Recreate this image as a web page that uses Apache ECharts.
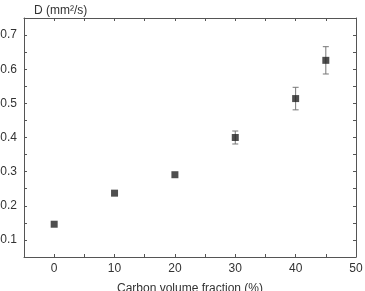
<!DOCTYPE html>
<html>
<head>
<meta charset="utf-8">
<script src="https://cdn.jsdelivr.net/npm/echarts@6/dist/echarts.min.js"></script>
<style>
  html, body { margin: 0; padding: 0; background: #fff; }
  #chart { width: 365px; height: 291px; }
</style>
</head>
<body>
<div id="chart"></div>
<script>
// carbon volume fraction (%)
var fractions = [0, 10, 20, 30, 40, 45]
// thermal diffusivity D (mm2/s)
var diffusivity = [0.146, 0.237, 0.291, 0.400, 0.514, 0.626]
// +/- error
var errors = [0, 0, 0, 0.019, 0.033, 0.040]

var axisColor = '#555'
var textColor = '#333'
var font = 'Liberation Sans, Arial, sans-serif'

var points = fractions.map(function (x, i) { return [x, diffusivity[i]] })
var bars = fractions.map(function (x, i) { return [x, diffusivity[i] - errors[i], diffusivity[i] + errors[i]] })
  .filter(function (d) { return d[2] - d[1] > 0 })

function xLabel (v) {
  return Math.round(v) % 10 === 0 ? String(Math.round(v)) : ''
}
function yLabel (v) {
  var n = Math.round(v * 100)
  return n % 10 === 0 ? (n / 100).toFixed(1) : ''
}

function axisBase (extra) {
  var a = {
    type: 'value',
    axisLine: { show: true, onZero: false, lineStyle: { color: axisColor } },
    axisTick: { show: true, inside: true, length: 3, lineStyle: { color: axisColor } },
    splitLine: { show: false }
  }
  for (var k in extra) a[k] = extra[k]
  return a
}

var chart = echarts.init(document.getElementById('chart'))
chart.setOption({
  animation: false,
  textStyle: { fontFamily: font },
  title: {
    text: 'D (mm²/s)',
    left: 29,
    top: 0,
    textStyle: { fontSize: 12, fontWeight: 'normal', color: textColor, fontFamily: font }
  },
  grid: { left: 24, right: 9, top: 18, bottom: 34, outerBoundsMode: 'none', containLabel: false },
  xAxis: [
    axisBase({
      min: -5, max: 50, interval: 5,
      name: 'Carbon volume fraction (%)', nameLocation: 'middle', nameGap: 26,
      nameTextStyle: { fontSize: 12, color: textColor },
      axisLabel: { formatter: xLabel, color: textColor, fontSize: 12, margin: 6 }
    }),
    axisBase({
      position: 'top', min: -5, max: 50, interval: 5,
      axisLabel: { show: false }
    })
  ],
  yAxis: [
    axisBase({
      min: 0.05, max: 0.75, interval: 0.05,
      axisLabel: { formatter: yLabel, color: textColor, fontSize: 12, margin: 7 }
    }),
    axisBase({
      position: 'right', min: 0.05, max: 0.75, interval: 0.05,
      axisLabel: { show: false }
    })
  ],
  series: [
    {
      type: 'custom',
      data: bars,
      renderItem: function (params, api) {
        var top = api.coord([api.value(0), api.value(2)])
        var bot = api.coord([api.value(0), api.value(1)])
        var cap = 3
        var style = { stroke: '#777', lineWidth: 1 }
        return {
          type: 'group',
          children: [
            { type: 'line', shape: { x1: top[0], y1: top[1], x2: bot[0], y2: bot[1] }, style: style },
            { type: 'line', shape: { x1: top[0] - cap, y1: top[1], x2: top[0] + cap, y2: top[1] }, style: style },
            { type: 'line', shape: { x1: bot[0] - cap, y1: bot[1], x2: bot[0] + cap, y2: bot[1] }, style: style }
          ]
        }
      },
      z: 2
    },
    {
      type: 'scatter',
      data: points,
      symbol: 'rect',
      symbolSize: 7,
      itemStyle: { color: '#222' },
      z: 3
    }
  ]
})
</script>
</body>
</html>
